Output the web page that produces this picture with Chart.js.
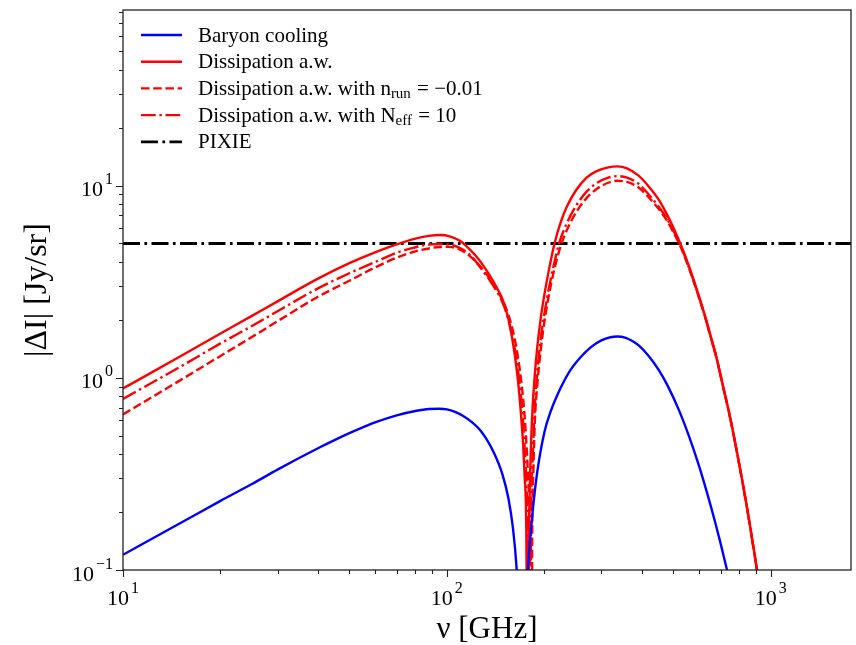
<!DOCTYPE html>
<html>
<head>
<meta charset="utf-8">
<script src="https://cdn.jsdelivr.net/npm/chart.js@4.4.1/dist/chart.umd.min.js"></script>
<style>
  html, body { margin: 0; padding: 0; background: #fff; }
  canvas { display: block; }
</style>
</head>
<body>
<canvas id="spectrum" width="856" height="645"></canvas>
<script>
// frequencies in GHz, |ΔI| in Jy/sr
const nuBaryon = [10, 15, 20, 25, 30, 40, 45, 50, 55, 60, 70, 80, 88, 95, 100, 106, 112, 120, 126, 132, 140, 148, 155, 160, 164, 168, 172,
  176, 179, 184, 190, 200, 210, 219, 230, 241, 260, 278, 300, 320, 336, 355, 375, 392, 420, 451, 480, 520, 560, 600, 640, 675, 700, 733, 760, 800];
const baryon = [0.12, 0.175, 0.229, 0.28, 0.333, 0.43, 0.474, 0.515, 0.552, 0.586, 0.638, 0.672, 0.688, 0.69, 0.685, 0.665, 0.635, 0.585, 0.54, 0.485, 0.405, 0.32, 0.235, 0.165, 0.105, 0.045, 0.005,
  0.065, 0.115, 0.2, 0.32, 0.52, 0.68, 0.81, 0.96, 1.1, 1.29, 1.44, 1.565, 1.625, 1.64, 1.62, 1.55, 1.47, 1.3, 1.1, 0.913, 0.683, 0.494, 0.35, 0.243, 0.175, 0.138, 0.1, 0.077, 0.0515];

const nuDiss = [10, 15, 20, 25, 30, 40, 50, 60, 70, 80, 88, 95, 102, 110, 117, 123, 128, 135, 142, 148, 153, 158, 162, 166, 169, 172, 174, 176, 177.7,
  179, 180, 182, 184, 187, 190, 195, 200, 207, 215, 225, 235, 250, 270, 290, 315, 336, 360, 390, 420, 450, 475, 500, 530, 560, 600, 630, 650, 680, 710, 750, 800, 850, 906, 950];
const dissipation = [0.88, 1.29, 1.70, 2.10, 2.50, 3.28, 3.95, 4.5, 4.95, 5.3, 5.48, 5.53, 5.45, 5.15, 4.7, 4.3, 3.95, 3.45, 2.98, 2.6, 2.2, 1.72, 1.32, 0.95, 0.68, 0.45, 0.3, 0.15, 0.005,
  0.12, 0.23, 0.46, 0.7, 1.05, 1.42, 2.05, 2.7, 3.7, 5.0, 6.5, 7.8, 9.4, 11.0, 11.9, 12.45, 12.6, 12.3, 11.3, 9.9, 8.5, 7.24, 6.08, 4.84, 3.79, 2.67, 2.04, 1.69, 1.28, 0.93, 0.62, 0.355, 0.2, 0.102, 0.062];

const nuRun = [10, 15, 20, 25, 30, 40, 50, 60, 70, 80, 85, 95, 102, 108, 114, 120, 126, 132, 138, 144, 150, 155, 160, 164, 168, 172, 175, 178, 180, 182,
  183.5, 185, 187, 190, 195, 200, 210, 220, 226, 235, 245, 265, 290, 315, 336, 360, 390, 420, 450, 475, 500, 530, 560, 600, 630, 650, 680, 710, 750, 800, 850, 906, 950];
const dissipationRun = [0.645, 0.97, 1.30, 1.63, 1.97, 2.64, 3.2, 3.75, 4.22, 4.55, 4.66, 4.79, 4.8, 4.7, 4.48, 4.18, 3.85, 3.5, 3.15, 2.8, 2.45, 2.12, 1.75, 1.43, 1.1, 0.78, 0.54, 0.31, 0.16, 0.005,
  0.16, 0.33, 0.6, 0.9, 1.4, 1.95, 3.1, 4.3, 5.0, 5.9, 6.8, 8.3, 9.6, 10.35, 10.6, 10.45, 9.8, 8.7, 7.6, 6.7, 5.75, 4.7, 3.7, 2.63, 2.02, 1.67, 1.27, 0.925, 0.615, 0.352, 0.198, 0.101, 0.061];

const nuNeff = [10, 15, 20, 25, 30, 40, 50, 60, 70, 80, 85, 95, 105, 112, 118, 124, 130, 136, 142, 148, 153, 158, 162, 166, 170, 173, 176, 178, 180.5,
  182, 184, 187, 190, 195, 200, 210, 215, 222, 235, 250, 270, 290, 315, 336, 360, 390, 420, 450, 475, 500, 530, 560, 600, 630, 650, 680, 710, 750, 800, 850, 906, 950];
const dissipationNeff = [0.776, 1.14, 1.51, 1.86, 2.22, 2.92, 3.5, 4.0, 4.48, 4.78, 4.9, 4.97, 4.88, 4.65, 4.35, 3.95, 3.55, 3.2, 2.85, 2.5, 2.15, 1.75, 1.42, 1.08, 0.75, 0.5, 0.28, 0.14, 0.005,
  0.17, 0.38, 0.72, 1.05, 1.6, 2.15, 3.35, 4.0, 5.0, 6.4, 7.8, 9.3, 10.3, 11.0, 11.2, 11.0, 10.25, 9.0, 7.8, 6.85, 5.85, 4.75, 3.73, 2.64, 2.03, 1.67, 1.27, 0.925, 0.615, 0.352, 0.198, 0.101, 0.061];

const nuPixie = [10, 1770];
const pixie = [5, 5];

const seriesLabels = ['Baryon cooling', 'Dissipation a.w.', 'Dissipation a.w. with n_run = \u22120.01',
  'Dissipation a.w. with N_eff = 10', 'PIXIE'];

const xTickValues = [10, 100, 1000];
const xTickLabels = ['10^1', '10^2', '10^3'];
const yTickValues = [0.1, 1, 10];
const yTickLabels = ['10^\u22121', '10^0', '10^1'];

const FONT = "'Liberation Serif', 'DejaVu Serif', serif";

function toPoints(xs, ys) {
  return xs.map((x, i) => ({ x: x, y: ys[i] }));
}

// "10^1" -> base + raised exponent
function drawPower(ctx, label, x, baseline, align) {
  const [base, exp] = label.split('^');
  const gap = 2;
  ctx.font = '22px ' + FONT;
  const bw = ctx.measureText(base).width;
  ctx.font = '16px ' + FONT;
  const ew = ctx.measureText(exp).width;
  const total = bw + gap + ew;
  const start = align === 'right' ? x - total : x - total / 2;
  ctx.textAlign = 'left';
  ctx.textBaseline = 'alphabetic';
  ctx.font = '22px ' + FONT;
  ctx.fillText(base, start, baseline);
  ctx.font = '16px ' + FONT;
  ctx.fillText(exp, start + bw + gap, baseline - 12);
}

// frame, outward ticks and power-of-ten labels, like matplotlib
const frameTicks = {
  id: 'frameTicks',
  afterDatasetsDraw(chart) {
    const { ctx, chartArea: a, scales } = chart;
    ctx.save();
    ctx.strokeStyle = '#222';
    ctx.lineWidth = 1.1;
    const isDecade = v => Math.abs(Math.log10(v) - Math.round(Math.log10(v))) < 1e-6;
    const isStep = v => {
      const m = v / Math.pow(10, Math.floor(Math.log10(v) + 1e-9));
      return Math.abs(m - Math.round(m)) < 1e-6;
    };
    ctx.beginPath();
    scales.x.ticks.forEach(t => {
      if (!isStep(t.value)) return;
      const px = Math.round(scales.x.getPixelForValue(t.value)) + 0.5;
      const len = isDecade(t.value) ? 7 : 4;
      ctx.moveTo(px, a.bottom);
      ctx.lineTo(px, a.bottom + len);
    });
    scales.y.ticks.forEach(t => {
      if (!isStep(t.value)) return;
      const py = Math.round(scales.y.getPixelForValue(t.value)) + 0.5;
      const len = isDecade(t.value) ? 7 : 4;
      ctx.moveTo(a.left, py);
      ctx.lineTo(a.left - len, py);
    });
    ctx.stroke();
    ctx.lineWidth = 1.3;
    ctx.strokeRect(a.left, a.top, a.right - a.left, a.bottom - a.top);

    ctx.fillStyle = '#000';
    xTickValues.forEach((v, i) => {
      drawPower(ctx, xTickLabels[i], scales.x.getPixelForValue(v), a.bottom + 35, 'center');
    });
    yTickValues.forEach((v, i) => {
      drawPower(ctx, yTickLabels[i], a.left - 10, scales.y.getPixelForValue(v) + 10.5, 'right');
    });
    ctx.restore();
  }
};

// legend with subscripts (n_run, N_eff)
const subLegend = {
  id: 'subLegend',
  afterDraw(chart) {
    const ctx = chart.ctx;
    const x0 = 141, x1 = 182, tx = 198, y0 = 35, dy = 26.7;
    ctx.save();
    chart.data.datasets.forEach((ds, i) => {
      const y = y0 + i * dy;
      ctx.strokeStyle = ds.borderColor;
      ctx.lineWidth = ds.borderWidth;
      ctx.setLineDash(ds.borderDash || []);
      ctx.beginPath();
      ctx.moveTo(x0, y);
      ctx.lineTo(x1, y);
      ctx.stroke();
      ctx.setLineDash([]);
      ctx.fillStyle = '#000';
      ctx.textBaseline = 'alphabetic';
      let x = tx;
      const parts = ds.label.split(/_(\w+)/);
      parts.forEach((p, k) => {
        const sub = k % 2 === 1;
        ctx.font = (sub ? '15px ' : '21px ') + FONT;
        ctx.fillText(p, x, y + (sub ? 10 : 6.5));
        x += ctx.measureText(p).width + (sub ? 1 : 0);
      });
    });
    ctx.restore();
  }
};

const lineStyle = (label, xs, ys, color, dash, width) => ({
  label: label,
  data: toPoints(xs, ys),
  borderColor: color,
  borderWidth: width,
  borderDash: dash,
  pointRadius: 0,
  cubicInterpolationMode: 'monotone',
  fill: false,
  clip: 0
});

new Chart(document.getElementById('spectrum'), {
  type: 'line',
  data: {
    datasets: [
      lineStyle(seriesLabels[0], nuBaryon, baryon, '#0000ff', [], 2.4),
      lineStyle(seriesLabels[1], nuDiss, dissipation, '#ff0000', [], 2.4),
      lineStyle(seriesLabels[2], nuRun, dissipationRun, '#ff0000', [8.5, 3.7], 2.4),
      lineStyle(seriesLabels[3], nuNeff, dissipationNeff, '#ff0000', [14.7, 3.7, 2.4, 3.7], 2.4),
      lineStyle(seriesLabels[4], nuPixie, pixie, '#000000', [17, 4.4, 2.7, 4.4], 2.8)
    ]
  },
  options: {
    responsive: false,
    animation: false,
    layout: { padding: { top: 10, right: 5, left: 0, bottom: 0 } },
    plugins: { legend: { display: false }, tooltip: { enabled: false } },
    scales: {
      x: {
        type: 'logarithmic',
        min: 10,
        max: 1770,
        grid: { display: false },
        border: { display: false },
        ticks: { display: false },
        title: {
          display: true,
          text: '\u03bd [GHz]',
          color: '#000',
          font: { family: FONT, size: 31, lineHeight: 1 },
          padding: { top: 0, bottom: 0 }
        },
        afterFit: s => { s.height = 75; s.paddingLeft = 0; s.paddingRight = 0; }
      },
      y: {
        type: 'logarithmic',
        min: 0.1,
        max: 82,
        grid: { display: false },
        border: { display: false },
        ticks: { display: false },
        title: {
          display: true,
          text: '|\u0394I| [Jy/sr]',
          color: '#000',
          font: { family: FONT, size: 32, lineHeight: 1 },
          padding: { top: 22, bottom: 0 }
        },
        afterFit: s => { s.width = 123; s.paddingTop = 0; s.paddingBottom = 0; }
      }
    }
  },
  plugins: [frameTicks, subLegend]
});
</script>
</body>
</html>
